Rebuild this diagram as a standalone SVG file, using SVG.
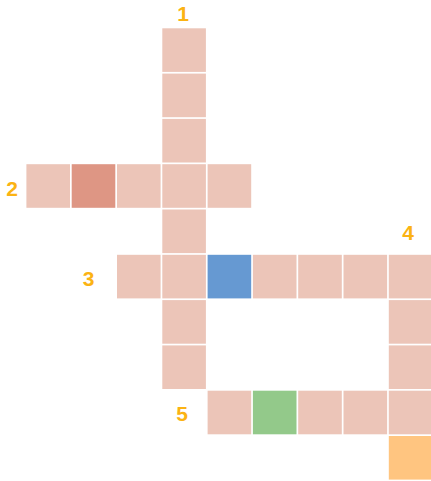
<svg xmlns="http://www.w3.org/2000/svg" width="431" height="481" viewBox="0 0 431 481">
<style>
.c{fill:#ECC5B8}
.d{fill:#DE9684}
.b{fill:#6699D2}
.g{fill:#93C98A}
.o{fill:#FFC580}
.l{font-family:"Liberation Sans",Arial,sans-serif;font-weight:bold;font-size:21px;fill:#FBB313;text-anchor:middle}
</style>
<defs><rect id="r" width="43.6" height="43.6"/></defs>
<rect width="431" height="481" fill="#fff"/>
<g id="cells">
<use href="#r" class="c" x="162.3" y="28.3"/>
<use href="#r" class="c" x="162.3" y="73.6"/>
<use href="#r" class="c" x="162.3" y="118.9"/>
<use href="#r" class="c" x="26.4" y="164.2"/>
<use href="#r" class="d" x="71.7" y="164.2"/>
<use href="#r" class="c" x="117" y="164.2"/>
<use href="#r" class="c" x="162.3" y="164.2"/>
<use href="#r" class="c" x="207.6" y="164.2"/>
<use href="#r" class="c" x="162.3" y="209.5"/>
<use href="#r" class="c" x="117" y="254.8"/>
<use href="#r" class="c" x="162.3" y="254.8"/>
<use href="#r" class="b" x="207.6" y="254.8"/>
<use href="#r" class="c" x="252.9" y="254.8"/>
<use href="#r" class="c" x="298.2" y="254.8"/>
<use href="#r" class="c" x="343.5" y="254.8"/>
<use href="#r" class="c" x="388.8" y="254.8"/>
<use href="#r" class="c" x="162.3" y="300.1"/>
<use href="#r" class="c" x="388.8" y="300.1"/>
<use href="#r" class="c" x="162.3" y="345.4"/>
<use href="#r" class="c" x="388.8" y="345.4"/>
<use href="#r" class="c" x="207.6" y="390.7"/>
<use href="#r" class="g" x="252.9" y="390.7"/>
<use href="#r" class="c" x="298.2" y="390.7"/>
<use href="#r" class="c" x="343.5" y="390.7"/>
<use href="#r" class="c" x="388.8" y="390.7"/>
<use href="#r" class="o" x="388.8" y="436"/>
</g>
<g id="labels">
<text class="l" x="183" y="21">1</text>
<text class="l" x="12" y="195.5">2</text>
<text class="l" x="88.5" y="285.5">3</text>
<text class="l" x="408" y="239.5">4</text>
<text class="l" x="182" y="420.5">5</text>
</g>
<g id="connectors"/>
</svg>
